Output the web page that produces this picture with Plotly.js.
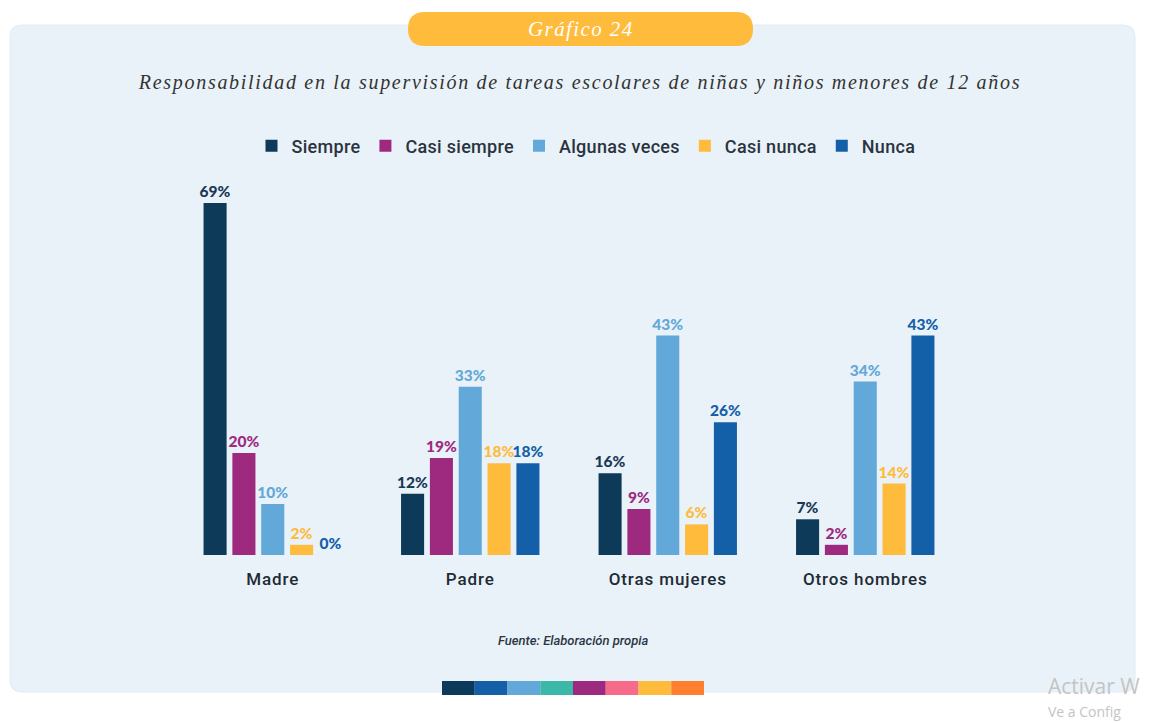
<!DOCTYPE html>
<html>
<head>
<meta charset="utf-8">
<script src="https://cdn.plot.ly/plotly-3.0.1.min.js"></script>
<style>
  html, body { margin: 0; padding: 0; background: #ffffff; }
  #chart { width: 1152px; height: 723px; }
  .gtitle { letter-spacing: 1.7px; }
  .xtick text { letter-spacing: 0.9px; }
  g.annotation[data-index="0"] text { letter-spacing: 1.4px; }
  .legendtext { letter-spacing: 0.3px; }
</style>
</head>
<body>
<div id="chart"></div>
<script>
// ---- data ----
const categories = ['Madre', 'Padre', 'Otras mujeres', 'Otros hombres'];
const seriesNames = ['Siempre', 'Casi siempre', 'Algunas veces', 'Casi nunca', 'Nunca'];
const siempre      = [69, 12, 16, 7];
const casiSiempre  = [20, 19, 9, 2];
const algunasVeces = [10, 33, 43, 34];
const casiNunca    = [2, 18, 6, 14];
const nunca        = [0, 18, 26, 43];
const stripColors = ['#0e3a5a', '#1460a8', '#62a8d8', '#3bb8a8', '#9e2a80', '#f76b8a', '#ffbb3c', '#ff7f2e'];

// ---- styling ----
const barColors   = ['#0e3a5a', '#9e2a80', '#62a8d8', '#ffbb3c', '#1460a8'];
const labelColors = ['#1b3856', '#9e2a80', '#62a8d8', '#ffbb3c', '#1460a8'];
const allSeries = [siempre, casiSiempre, algunasVeces, casiNunca, nunca];

const traces = allSeries.map((vals, i) => ({
  type: 'bar',
  name: seriesNames[i],
  x: categories,
  y: vals,
  text: vals.map(v => v + '%'),
  textposition: 'outside',
  constraintext: 'none',
  cliponaxis: false,
  textfont: { family: 'Lato, sans-serif', size: 15.5, color: labelColors[i], weight: 900 },
  marker: { color: barColors[i], line: { width: 0 } },
  hoverinfo: 'skip'
}));

// pixel -> paper helpers
const L = 174, R = 964, B = 555, T = 180;
const X = px => (px - L) / (R - L);
const Y = py => (B - py) / (B - T);

function roundRect(x0, y0, x1, y1, r) {
  const p = (x, y) => X(x).toFixed(5) + ',' + Y(y).toFixed(5);
  return 'M' + p(x0 + r, y0) + ' L' + p(x1 - r, y0) + ' Q' + p(x1, y0) + ' ' + p(x1, y0 + r) +
         ' L' + p(x1, y1 - r) + ' Q' + p(x1, y1) + ' ' + p(x1 - r, y1) +
         ' L' + p(x0 + r, y1) + ' Q' + p(x0, y1) + ' ' + p(x0, y1 - r) +
         ' L' + p(x0, y0 + r) + ' Q' + p(x0, y0) + ' ' + p(x0 + r, y0) + ' Z';
}

const shapes = [
  { type: 'path', xref: 'paper', yref: 'paper', layer: 'below',
    path: roundRect(10, 25, 1135, 692, 12), fillcolor: '#e9f2f8', line: { width: 1, color: '#e2ecf3' } },
  { type: 'path', xref: 'paper', yref: 'paper', layer: 'above',
    path: roundRect(408, 12, 753, 46, 17), fillcolor: '#ffbb3c', line: { width: 0 } }
];
const stripX0 = 442, stripW = 32.75;
stripColors.forEach((c, i) => {
  shapes.push({ type: 'rect', xref: 'paper', yref: 'paper', layer: 'above',
    x0: X(stripX0 + i * stripW), x1: X(stripX0 + (i + 1) * stripW),
    y0: Y(695), y1: Y(681), fillcolor: c, line: { width: 0 } });
});

const annotations = [
  { xref: 'paper', yref: 'paper', x: X(581), y: Y(29), xanchor: 'center', yanchor: 'middle',
    text: 'Gráfico 24', showarrow: false,
    font: { family: 'Liberation Serif, serif', size: 21, color: '#ffffff', style: 'italic' } },
  { xref: 'paper', yref: 'paper', x: X(573), y: Y(640), xanchor: 'center', yanchor: 'middle',
    text: 'Fuente: Elaboración propia', showarrow: false,
    font: { family: 'Roboto, sans-serif', size: 13, color: '#2b3645', style: 'italic', weight: 500 } },
  { xref: 'paper', yref: 'paper', x: X(1046), y: Y(686), xanchor: 'left', yanchor: 'middle',
    text: 'Activar W', showarrow: false,
    font: { family: 'Open Sans, sans-serif', size: 21, color: '#c4c4c4' } },
  { xref: 'paper', yref: 'paper', x: X(1046), y: Y(711), xanchor: 'left', yanchor: 'middle',
    text: 'Ve a Config', showarrow: false,
    font: { family: 'Open Sans, sans-serif', size: 14, color: '#c4c4c4' } }
];

const layout = {
  width: 1152, height: 723,
  margin: { l: L, r: 1152 - R, t: T, b: 723 - B, pad: 0 },
  paper_bgcolor: '#ffffff',
  plot_bgcolor: 'rgba(0,0,0,0)',
  barmode: 'group',
  bargap: 0.27,
  bargroupgap: 0.2,
  showlegend: true,
  title: {
    text: 'Responsabilidad en la supervisión de tareas escolares de niñas y niños menores de 12 años',
    x: 580 / 1152, xanchor: 'center', xref: 'container',
    y: 1 - 82 / 723, yanchor: 'middle', yref: 'container',
    font: { family: 'Liberation Serif, serif', size: 20, color: '#333333', style: 'italic' }
  },
  legend: {
    orientation: 'h', x: X(586), xanchor: 'center', y: Y(146), yanchor: 'middle',
    xref: 'paper', yref: 'paper',
    font: { family: 'Roboto, sans-serif', size: 18, color: '#2a3440', weight: 500 },
    bgcolor: 'rgba(0,0,0,0)', itemwidth: 30, itemclick: false, itemdoubleclick: false
  },
  xaxis: {
    type: 'category', range: [-0.5, 3.5], showgrid: false, zeroline: false, showline: false,
    ticks: '', ticklabelstandoff: 12,
    tickfont: { family: 'Roboto, sans-serif', size: 17, color: '#222a35', weight: 500 },
    fixedrange: true
  },
  yaxis: {
    range: [0, 73.5], showgrid: false, zeroline: false, showline: false, showticklabels: false,
    ticks: '', fixedrange: true
  },
  shapes: shapes,
  annotations: annotations,
  font: { family: 'Roboto, sans-serif' }
};

Plotly.newPlot('chart', traces, layout, { displayModeBar: false, staticPlot: true });
</script>
</body>
</html>
